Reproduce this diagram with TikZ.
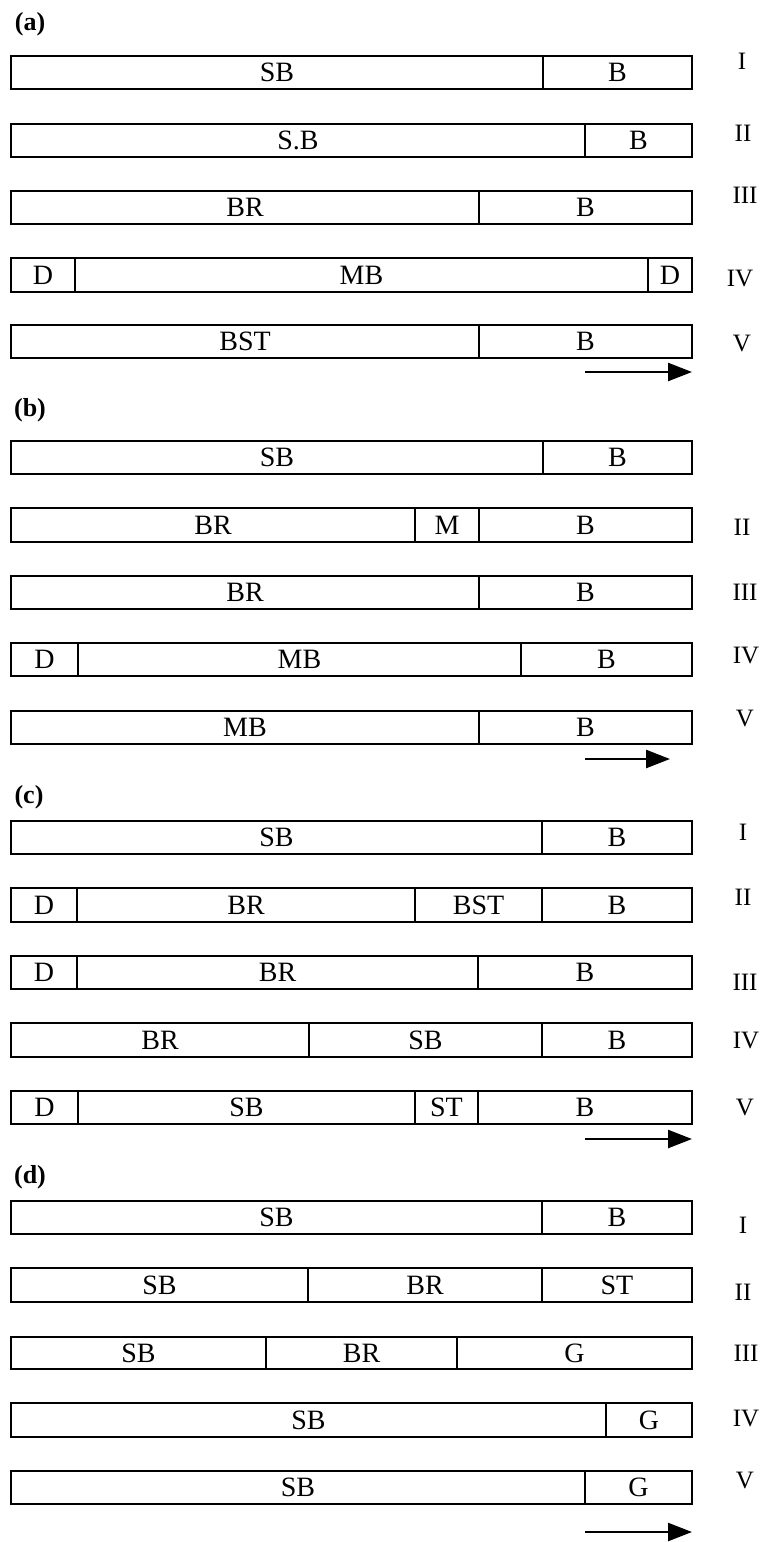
\documentclass[tikz,border=0pt]{standalone}
\usepackage{fontspec}
\setmainfont{Liberation Serif}
\usetikzlibrary{arrows.meta}

\tikzset{%
  seg/.style={
    line width=1.5pt
  },
  seglabel/.style={
    font=\fontsize{28}{30}\selectfont,
    inner sep=0pt
  },
  panel/.style={
    font=\fontsize{26}{28}\selectfont\bfseries,
    inner sep=0pt
  },
  stage/.style={
    font=\fontsize{25}{27}\selectfont,
    inner sep=0pt
  },
  flow/.style={
    line width=2.5pt,
    -{Triangle[length=24pt,width=18pt]}
  },
}

\begin{document}
\begin{tikzpicture}[x=1pt,y=-1pt]
\useasboundingbox (0,0) rectangle (767,1542);
% (a)
\node[panel] (pa) at (30,24) {(a)};
\draw[seg] (11,56) rectangle (543,89) node[seglabel,pos=.5] (a1sb) {SB};
\draw[seg] (543,56) rectangle (692,89) node[seglabel,pos=.5] (a1b) {B};
\node[stage] (a1) at (742,61) {I};
\draw[seg] (11,124) rectangle (585,157) node[seglabel,pos=.5] (a2sb) {S.B};
\draw[seg] (585,124) rectangle (692,157) node[seglabel,pos=.5] (a2b) {B};
\node[stage] (a2) at (743,133) {II};
\draw[seg] (11,191) rectangle (479,224) node[seglabel,pos=.5] (a3br) {BR};
\draw[seg] (479,191) rectangle (692,224) node[seglabel,pos=.5] (a3b) {B};
\node[stage] (a3) at (745,195) {III};
\draw[seg] (11,258) rectangle (75,292) node[seglabel,pos=.5] (a4d) {D};
\draw[seg] (75,258) rectangle (648,292) node[seglabel,pos=.5] (a4mb) {MB};
\draw[seg] (648,258) rectangle (692,292) node[seglabel,pos=.5] (a4dd) {D};
\node[stage] (a4) at (740,278) {IV};
\draw[seg] (11,325) rectangle (479,358) node[seglabel,pos=.5] (a5bst) {BST};
\draw[seg] (479,325) rectangle (692,358) node[seglabel,pos=.5] (a5b) {B};
\node[stage] (a5) at (742,343) {V};
\coordinate (as) at (585,372);
\coordinate (ae) at (692,372);
\draw[flow] (as) -- (ae);
% (b)
\node[panel] (pb) at (30,410) {(b)};
\draw[seg] (11,441) rectangle (543,474) node[seglabel,pos=.5] (b1sb) {SB};
\draw[seg] (543,441) rectangle (692,474) node[seglabel,pos=.5] (b1b) {B};
\draw[seg] (11,508) rectangle (415,542) node[seglabel,pos=.5] (b2br) {BR};
\draw[seg] (415,508) rectangle (479,542) node[seglabel,pos=.5] (b2m) {M};
\draw[seg] (479,508) rectangle (692,542) node[seglabel,pos=.5] (b2b) {B};
\node[stage] (b2) at (742,527) {II};
\draw[seg] (11,576) rectangle (479,609) node[seglabel,pos=.5] (b3br) {BR};
\draw[seg] (479,576) rectangle (692,609) node[seglabel,pos=.5] (b3b) {B};
\node[stage] (b3) at (745,592) {III};
\draw[seg] (11,643) rectangle (78,676) node[seglabel,pos=.5] (b4d) {D};
\draw[seg] (78,643) rectangle (521,676) node[seglabel,pos=.5] (b4mb) {MB};
\draw[seg] (521,643) rectangle (692,676) node[seglabel,pos=.5] (b4b) {B};
\node[stage] (b4) at (746,655) {IV};
\draw[seg] (11,711) rectangle (479,744) node[seglabel,pos=.5] (b5mb) {MB};
\draw[seg] (479,711) rectangle (692,744) node[seglabel,pos=.5] (b5b) {B};
\node[stage] (b5) at (745,718) {V};
\coordinate (bs) at (585,759);
\coordinate (be) at (670,759);
\draw[flow] (bs) -- (be);
% (c)
\node[panel] (pc) at (29,797) {(c)};
\draw[seg] (11,821) rectangle (542,854) node[seglabel,pos=.5] (c1sb) {SB};
\draw[seg] (542,821) rectangle (692,854) node[seglabel,pos=.5] (c1b) {B};
\node[stage] (c1) at (743,832) {I};
\draw[seg] (11,888) rectangle (77,922) node[seglabel,pos=.5] (c2d) {D};
\draw[seg] (77,888) rectangle (415,922) node[seglabel,pos=.5] (c2br) {BR};
\draw[seg] (415,888) rectangle (542,922) node[seglabel,pos=.5] (c2bst) {BST};
\draw[seg] (542,888) rectangle (692,922) node[seglabel,pos=.5] (c2b) {B};
\node[stage] (c2) at (743,897) {II};
\draw[seg] (11,956) rectangle (77,989) node[seglabel,pos=.5] (c3d) {D};
\draw[seg] (77,956) rectangle (478,989) node[seglabel,pos=.5] (c3br) {BR};
\draw[seg] (478,956) rectangle (692,989) node[seglabel,pos=.5] (c3b) {B};
\node[stage] (c3) at (745,982) {III};
\draw[seg] (11,1023) rectangle (309,1057) node[seglabel,pos=.5] (c4br) {BR};
\draw[seg] (309,1023) rectangle (542,1057) node[seglabel,pos=.5] (c4sb) {SB};
\draw[seg] (542,1023) rectangle (692,1057) node[seglabel,pos=.5] (c4b) {B};
\node[stage] (c4) at (746,1040) {IV};
\draw[seg] (11,1091) rectangle (78,1124) node[seglabel,pos=.5] (c5d) {D};
\draw[seg] (78,1091) rectangle (415,1124) node[seglabel,pos=.5] (c5sb) {SB};
\draw[seg] (415,1091) rectangle (478,1124) node[seglabel,pos=.5] (c5st) {ST};
\draw[seg] (478,1091) rectangle (692,1124) node[seglabel,pos=.5] (c5b) {B};
\node[stage] (c5) at (745,1107) {V};
\coordinate (cs) at (585,1139);
\coordinate (ce) at (692,1139);
\draw[flow] (cs) -- (ce);
% (d)
\node[panel] (pd) at (30,1177) {(d)};
\draw[seg] (11,1201) rectangle (542,1234) node[seglabel,pos=.5] (d1sb) {SB};
\draw[seg] (542,1201) rectangle (692,1234) node[seglabel,pos=.5] (d1b) {B};
\node[stage] (d1) at (743,1225) {I};
\draw[seg] (11,1268) rectangle (308,1302) node[seglabel,pos=.5] (d2sb) {SB};
\draw[seg] (308,1268) rectangle (542,1302) node[seglabel,pos=.5] (d2br) {BR};
\draw[seg] (542,1268) rectangle (692,1302) node[seglabel,pos=.5] (d2st) {ST};
\node[stage] (d2) at (743,1292) {II};
\draw[seg] (11,1337) rectangle (266,1369) node[seglabel,pos=.5] (d3sb) {SB};
\draw[seg] (266,1337) rectangle (457,1369) node[seglabel,pos=.5] (d3br) {BR};
\draw[seg] (457,1337) rectangle (692,1369) node[seglabel,pos=.5] (d3g) {G};
\node[stage] (d3) at (746,1353) {III};
\draw[seg] (11,1403) rectangle (606,1437) node[seglabel,pos=.5] (d4sb) {SB};
\draw[seg] (606,1403) rectangle (692,1437) node[seglabel,pos=.5] (d4g) {G};
\node[stage] (d4) at (746,1418) {IV};
\draw[seg] (11,1471) rectangle (585,1504) node[seglabel,pos=.5] (d5sb) {SB};
\draw[seg] (585,1471) rectangle (692,1504) node[seglabel,pos=.5] (d5g) {G};
\node[stage] (d5) at (745,1480) {V};
\coordinate (ds) at (585,1532);
\coordinate (de) at (692,1532);
\draw[flow] (ds) -- (de);
\end{tikzpicture}
\end{document}
